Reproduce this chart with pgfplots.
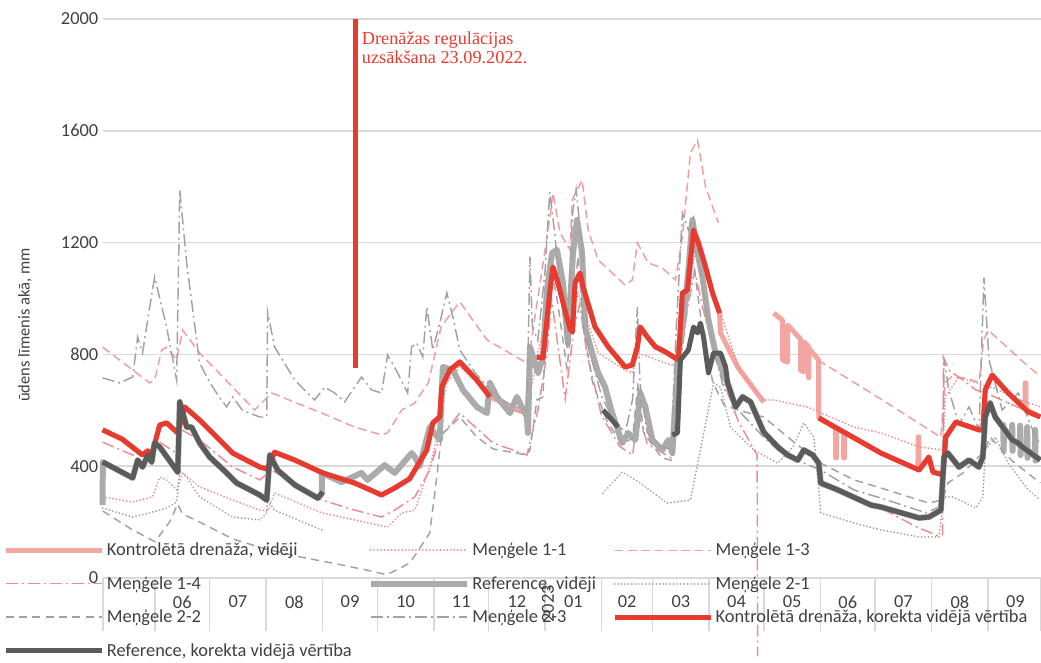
\documentclass[border=0pt]{standalone}
\usepackage{fontspec}
\setmainfont{Carlito}
\newfontfamily\notefont{Liberation Serif}
\usepackage{pgfplots}
\pgfplotsset{compat=1.18}
\definecolor{kred}{HTML}{E63B2E}
\definecolor{kpink}{HTML}{F3A5A2}
\definecolor{mpink}{HTML}{F08C90}
\definecolor{rdark}{HTML}{5B5B59}
\definecolor{rlight}{HTML}{ABABAB}
\definecolor{mgray}{HTML}{A2A2A2}
\definecolor{gridc}{HTML}{D9D9D9}
\definecolor{txt}{HTML}{404040}
\newcommand\fs{\fontsize{13.8}{16}\selectfont}

\begin{document}
\begin{tikzpicture}
\useasboundingbox (-77.25pt,-63pt) rectangle (703.5pt,433.5pt);
% x: days since 1 June 2022
\begin{axis}[
  at={(0pt,0pt)}, anchor=south west,
  scale only axis, width=703.5pt, height=419.25pt,
  xmin=-28.5, xmax=486, ymin=0, ymax=2000,
  clip=false, unbounded coords=jump,
  axis line style={draw=none},
  ytick={0,400,800,1200,1600,2000},
  ymajorgrids, grid style={draw=gridc, line width=1.1pt},
  major tick length=0pt, minor tick length=40pt, tick align=outside,
  xtick pos=left, ytick pos=left,
  xtick={15,45.5,76.5,107,137.5,168,198.5,229.5,259,288.5,319,349.5,380,410.5,441.5,472},
  xticklabels={06,07,08,09,10,11,12,01,02,03,04,05,06,07,08,09},
  minor xtick={-28.5,0,30,61,92,122,153,183,214,245,273,304,334,365,395,426,457,486},
  minor x tick style={draw=gridc, line width=1.1pt},
  ticklabel style={font=\fs, text=txt},
  xticklabel style={yshift=-10pt},
  /pgf/number format/assume math mode=true,
  /pgf/number format/1000 sep={},
  ylabel={ūdens līmenis akā, mm},
  ylabel style={font=\fontsize{12.4}{14}\selectfont, text=txt, at={(rel axis cs:-0.0832,0.4526)}, anchor=center},
  legend columns=3, legend cell align=left,
  legend style={at={(-0.1066,0.068)}, anchor=north west, draw=none, fill=none,
    font=\fs, text=txt, inner sep=0pt, row sep=10pt,
    /tikz/every even column/.append style={column sep=10pt}},
  legend image code/.code={\draw[#1] (0pt,0pt) -- (72pt,0pt);},
]

% Kontrolētā drenāža, vidēji
\addplot[kpink, line width=3.75pt, line join=round] coordinates {
(-28.7,530) (-18,497) (-6.8,440) (-4,455) (-1.8,440) (2.6,547) (6.4,555) (12.5,519) (16.3,612) (24.5,565) (42.6,447) (57.5,397) (61.5,390) (65.6,450) (76.7,422) (92,376) (109.5,340) (124.3,297) (131.5,322) (139.7,355) (142.5,386) (149.1,458) (152.4,555) (156.2,576) (157.3,683) (161.7,744) (167.2,773) (176.6,708) (183.7,648) (190,630) (197,605) (204,590) (205.7,760) (209.5,791) (212.8,787) (216.7,1030) (218.3,1113) (221.1,1056) (226,930) (227.7,890) (229,880) (230.4,1056) (233.2,1091) (234.8,1041) (241.4,898) (248.6,827) (257.9,755) (261.8,762) (264.6,827) (266.2,898) (270.1,862) (274.5,827) (280,809) (287.1,780) (289.3,1020) (292.1,1030) (295.4,1245) (298.1,1199) (302,1113) (305.8,1020) (309.7,948) (310.2,877) (319.6,755) (333.9,629) (336,nan)
(339.4,948) (344.2,922) (344.3,780) (347.0,772) (347.1,905) (354.1,855) (354.2,742) (355.8,738) (355.9,845) (358.5,828) (358.6,716) (358.7,822) (364.0,780) (364.1,573) (373.3,537) (373.4,430) (373.8,430) (373.9,536) (377.7,521) (377.8,430) (378.2,430) (378.3,520) (398.2,447) (418.5,389) (418.6,505) (419,505) (419.1,386) (424.5,433) (426.7,379) (432.2,369) (433.8,505) (439.3,558) (451.9,530) (454.1,530) (455.4,673) (459.2,726) (468,662) (477.2,605) (477.3,698) (477.7,698) (477.8,603) (485.6,576)};
\addlegendentry{Kontrolētā drenāža, vidēji}

% Meņģele 1-1
\addplot[mpink, line width=1.5pt, line cap=round, dash pattern=on 0.01pt off 2.6pt] coordinates {
(-28.7,290) (-12.2,272) (-1.3,290) (2.6,361) (6.4,351) (11.9,315) (15.2,376) (24.5,326) (42.6,279) (57.5,243) (61.8,240) (65.6,304) (91.5,233) (109.5,208) (127.6,182) (135.3,233) (142.5,243) (150.7,397) (156.2,540) (160,700) (167.2,755) (176.6,698) (194.7,601) (204,590) (209.5,791) (216.7,995) (218.3,1077) (227.7,912) (232,1020) (243.1,805) (257.9,744) (261.8,734) (265,805) (280,769) (287.1,755) (290.9,923) (296.3,1184) (302,1102) (309.1,970) (321.2,734) (333.9,637) (339.4,637) (357.7,612) (383.4,540) (398.2,519) (419.1,469) (432.2,458) (433.5,650) (441,719) (450.3,698) (460,680) (470,650) (485.6,612)};
\addlegendentry{Meņģele 1-1}

% Meņģele 1-3
\addplot[mpink!85, line width=1.1pt, dash pattern=on 6.5pt off 3.5pt] coordinates {
(-28.7,826) (-2.9,698) (-0.2,708) (3.7,816) (6.4,826) (11.9,780) (15.2,887) (24.5,805) (42.6,683) (54.7,601) (64,662) (91.5,590) (109.5,540) (124.3,512) (127.6,519) (135.3,601) (142.5,626) (150,700) (157,900) (167.2,988) (182.1,852) (204,769) (205.7,816) (216.7,1292) (218.3,1378) (222.2,1234) (227.7,1174) (228.8,1352) (234.3,1424) (237.6,1245) (243.1,1138) (257.9,1048) (261.8,1066) (264.6,1199) (270.6,1127) (278.3,1109) (285.5,1066) (289.3,1220) (293.7,1521) (297.6,1567) (302,1399) (309.1,1270) (310,nan) (363.6,780) (398.2,640) (431,504) (433.5,700) (437,720) (445,715) (452,700) (454.5,850) (457,887) (465,840) (475,780) (485.6,721)};
\addlegendentry{Meņģele 1-3}

% Meņģele 1-4
\addplot[mpink, line width=1.1pt, dash pattern=on 9pt off 3pt on 1.5pt off 3pt] coordinates {
(-28.7,486) (-12.2,440) (-1.3,447) (2.6,486) (11.9,447) (14.7,530) (24.5,494) (42.6,397) (57.5,351) (64,386) (91.5,279) (109.5,243) (124.3,218) (131.5,243) (142.5,290) (150.7,386) (156,500) (167.2,590) (185.4,483) (204,440) (210,600) (215,800) (217.5,1000) (220,880) (225,640) (230,900) (233,980) (237,800) (245,580) (255,470) (262,440) (265,600) (270,480) (283,430) (288,760) (292,960) (296,1100) (300,980) (306,820) (312,700) (320,560) (330.3,440) (330.6,-280) (331,nan) (365,330) (383.4,290) (398.2,250) (418,182) (430,150) (432,155) (432.5,790) (436,740) (441,719) (450.3,673) (460,650) (470,620) (485.6,580)};
\addlegendentry{Meņģele 1-4}

% Reference, vidēji
\addplot[rlight, line width=4.5pt, line join=round] coordinates {
(-28.7,261) (-28.6,415) (-12.2,358) (-9.5,422) (-6.8,397) (-4,440) (-1.8,415) (-0.2,483) (2.6,469) (12.5,379) (13.6,630) (17.4,540) (20.1,540) (24.5,483) (30,433) (39.3,376) (44.8,340) (57.5,297) (61.3,279) (63,440) (67.3,386) (76.7,333) (89.3,286) (91.5,300) (91.6,376) (102.4,343) (113.3,376) (116.6,351) (126,404) (131.5,376) (140.8,447) (142.5,433) (145.2,400) (150.7,540) (156.2,494) (157.9,755) (163.4,744) (168.9,673) (176.6,612) (182.1,590) (183.7,698) (187.6,648) (194.7,590) (198.5,648) (204,576) (204.6,519) (205.7,827) (210.1,734) (212.8,791) (215,1030) (217.8,1163) (220.5,1174) (223.8,1056) (226.5,840) (229.3,1163) (231.5,1281) (234.3,1163) (235.9,898) (239.8,805) (243.1,734) (246.9,683) (250.8,590) (256.3,483) (259.6,519) (263.5,494) (266.2,662) (269,612) (272.8,494) (278.3,458) (281.6,494) (283.8,447) (287.1,805) (289.9,923) (292.6,1102) (294.8,1281) (297.6,1163) (300.3,1077) (303.6,923) (307.5,805) (311.3,744) (314.1,698) (318.5,612) (322.3,648) (326.7,630) (333.9,522) (341.6,469) (347,440) (352.6,422) (355.9,458) (360.8,440) (364.1,411) (365.2,340) (374.6,315) (392.7,261) (398.2,254) (419.1,215) (424.5,218) (431.1,243) (432.8,433) (434.9,447) (441,397) (446.5,422) (451.9,397) (454.1,433) (455.4,576) (458.1,626) (460.9,576) (465.1,540) (465.3,548) (465.5,455) (465.7,536) (470.0,496) (470.2,548) (470.4,455) (470.6,492) (474.4,477) (474.6,545) (474.8,440) (475,474) (478.2,459) (478.4,540) (478.6,430) (478.8,456) (482.6,436) (482.8,530) (483,420) (483.2,434) (485.6,422)};
\addlegendentry{Reference, vidēji}

% Meņģele 2-1
\addplot[mgray, line width=1.5pt, line cap=round, dash pattern=on 0.01pt off 2.6pt] coordinates {
(-28.7,250) (-12.2,218) (-1.3,236) (6.4,250) (11.9,272) (13.6,386) (17.4,360) (24.5,290) (42.6,218) (57.5,208) (61.3,233) (61.8,279) (65.6,243) (91.5,172) (92,nan) (245.8,304) (256.3,379) (266.2,340) (280.8,268) (293.7,279) (299.2,458) (306.4,698) (310.2,683) (315.7,540) (321.2,504) (328.4,458) (341.6,411) (350,470) (355.9,555) (361.4,504) (365.2,233) (383.4,197) (398.2,172) (419.1,147) (430,147) (432.8,290) (437.7,290) (450.3,250) (454.1,290) (455.4,458) (460.9,504) (468,411) (479,315) (485.6,279)};
\addlegendentry{Meņģele 2-1}

% Meņģele 2-2
\addplot[mgray, line width=1.1pt, dash pattern=on 6pt off 4pt] coordinates {
(-28.7,240) (-13,175) (0,130) (8,200) (12.5,265) (15,230) (24.5,200) (42.6,140) (60,105) (80,75) (100,50) (115,30) (127,12) (133,30) (140,55) (150.7,161) (154,330) (157.3,515) (161.7,540) (167.2,576) (176.6,504) (185.4,462) (204,440) (205.7,458) (209.5,637) (212.8,648) (215,950) (217.8,1100) (221,980) (226,750) (230,1000) (232,1150) (235,900) (240,700) (248,560) (256,480) (262,500) (265,700) (268,520) (278,430) (284,420) (288,850) (292,1050) (296,1100) (300,900) (306,700) (312,620) (320,600) (333.9,576) (347.1,504) (365.2,411) (383.4,351) (398.2,322) (424.5,268) (432,280) (434.9,340) (443.2,376) (455.4,458) (458.1,504) (470,420) (485.6,340)};
\addlegendentry{Meņģele 2-2}

% Meņģele 2-3
\addplot[mgray, line width=1.1pt, dash pattern=on 9pt off 3pt on 1.5pt off 3pt] coordinates {
(-28.7,716) (-19.4,698) (-12.2,719) (-9.5,862) (-6.8,805) (-4,923) (-0.2,1077) (6.4,898) (11.9,708) (13.6,1388) (17.4,1127) (24.5,769) (30,700) (35,650) (39.3,612) (42.6,648) (48,600) (57.5,576) (61.3,576) (61.8,952) (65.6,827) (76.7,708) (87.6,637) (93.1,683) (98.6,662) (104,630) (113.3,719) (118.8,673) (124.3,662) (127.6,798) (133.1,734) (138.6,662) (140.8,827) (143.6,841) (146.9,791) (149.1,970) (152.4,816) (156.2,912) (160.1,1020) (163.4,934) (167.2,816) (175,740) (185,660) (195,620) (204,600) (205.7,1150) (207,900) (210,850) (214,1100) (216.5,1380) (219,1250) (222,1050) (226,820) (229,1300) (231,1390) (234,1200) (238,820) (245,650) (252,560) (258,520) (262,640) (264.6,970) (266,700) (270,520) (278,470) (283,460) (286,900) (289.3,1306) (292.6,1245) (295.4,1290) (302,970) (307.5,790) (312,680) (320,600) (333.9,504) (341.6,458) (355.9,411) (365.2,386) (383.4,315) (398.2,286) (422.9,233) (432,260) (432.8,782) (435.5,670) (441,550) (446.5,612) (452,530) (454.7,1075) (457.5,780) (464.7,601) (473.5,662) (482.9,505) (485.6,480)};
\addlegendentry{Meņģele 2-3}

% Kontrolētā drenāža, korekta vidējā vērtība
\addplot[kred, line width=3.75pt, line join=round] coordinates {
(-28.7,530) (-18,497) (-6.8,440) (-4,455) (-1.8,440) (2.6,547) (6.4,555) (12.5,519) (16.3,612) (24.5,565) (42.6,447) (57.5,397) (61.5,390) (65.6,450) (76.7,422) (92,376) (109.5,340) (124.3,297) (131.5,322) (139.7,355) (142.5,386) (149.1,458) (152.4,555) (156.2,576) (157.3,683) (161.7,744) (167.2,773) (176.6,708) (183.7,648) (190,nan) (209.5,791) (212.8,787) (216.7,1030) (218.3,1113) (221.1,1056) (226,930) (227.7,890) (229,880) (230.4,1056) (233.2,1091) (234.8,1041) (241.4,898) (248.6,827) (257.9,755) (261.8,762) (264.6,827) (266.2,898) (270.1,862) (274.5,827) (280,809) (287.1,780) (289.3,1020) (292.1,1030) (295.4,1245) (298.1,1199) (302,1113) (305.8,1020) (309.7,948) (320,nan) (364.1,573) (398.2,447) (419.1,386) (424.5,433) (426.7,379) (432.2,369) (433.8,505) (439.3,558) (451.9,530) (454.1,530) (455.4,673) (459.2,726) (468,662) (479,594) (485.6,576)};
\addlegendentry{Kontrolētā drenāža, korekta vidējā vērtība}

% Reference, korekta vidējā vērtība
\addplot[rdark, line width=3.75pt, line join=round] coordinates {
(-28.7,415) (-12.2,358) (-9.5,422) (-6.8,397) (-4,440) (-1.8,415) (-0.2,483) (2.6,469) (12.5,379) (13.6,630) (17.4,540) (20.1,540) (24.5,483) (30,433) (39.3,376) (44.8,340) (57.5,297) (61.3,279) (63,440) (67.3,386) (76.7,333) (89.3,286) (92,308) (93,nan) (245.8,601) (254.1,540) (260,nan) (283.8,512) (286.6,519) (288.2,780) (292.6,816) (295.4,898) (297.6,877) (299.2,912) (300.9,862) (303.6,734) (306.4,805) (310.2,805) (313,755) (314.1,698) (318.5,612) (322.3,648) (326.7,630) (333.9,522) (341.6,469) (347,440) (352.6,422) (355.9,458) (360.8,440) (364.1,411) (365.2,340) (374.6,315) (392.7,261) (398.2,254) (419.1,215) (424.5,218) (431.1,243) (432.8,433) (434.9,447) (441,397) (446.5,422) (451.9,397) (454.1,433) (455.4,576) (458.1,626) (460.9,576) (470.2,494) (473.5,483) (475.7,469) (485.6,422)};
\addlegendentry{Reference, korekta vidējā vērtība}

% start of drainage regulation
\addplot[forget plot, kred, line width=3.75pt] coordinates {(110,750) (110,2000)};

\node[anchor=west, align=left, text=kred, font=\notefont\fontsize{13.7}{14.25}\selectfont, inner sep=0pt]
  at (axis cs:113.4,1898) {Drenāžas regulācijas\\uzsākšana 23.09.2022.};
\node[rotate=90, font=\fs, text=txt, inner sep=0pt] at (axis cs:215.5,-93) {2023};
\end{axis}
\end{tikzpicture}
\end{document}
